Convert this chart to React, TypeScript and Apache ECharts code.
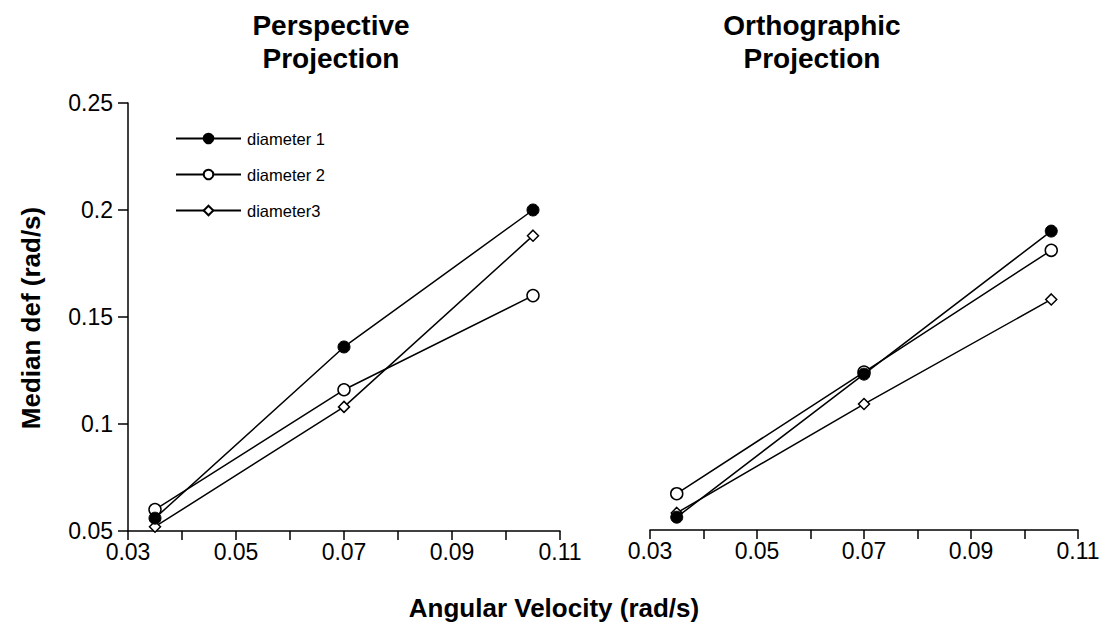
import React, { useEffect, useRef } from "react";
import * as echarts from "echarts";

// Angular velocity levels (rad/s) tested in each condition
const velocities = [0.035, 0.07, 0.105];

// Median def (rad/s), perspective projection
const perspDiameter1 = [0.056, 0.136, 0.2];
const perspDiameter2 = [0.06, 0.116, 0.16];
const perspDiameter3 = [0.052, 0.108, 0.188];

// Median def (rad/s), orthographic projection
const orthoDiameter1 = [0.056, 0.123, 0.19];
const orthoDiameter2 = [0.067, 0.124, 0.181];
const orthoDiameter3 = [0.058, 0.109, 0.158];

const seriesNames = ["diameter 1", "diameter 2", "diameter3"];
const panelTitles = ["Perspective\nProjection", "Orthographic\nProjection"];
const xAxisTitle = "Angular Velocity (rad/s)";
const yAxisTitle = "Median def (rad/s)";

const FONT = "'Liberation Sans', Arial, Helvetica, sans-serif";
const INK = "#000";

const markerStyles = [
  { symbol: "circle", symbolSize: 12, itemStyle: { color: INK, borderColor: INK, borderWidth: 1 } },
  { symbol: "circle", symbolSize: 12, itemStyle: { color: "#fff", borderColor: INK, borderWidth: 1.5 } },
  { symbol: "diamond", symbolSize: 11, itemStyle: { color: "#fff", borderColor: INK, borderWidth: 1.5 } },
];

function pairs(values: number[]) {
  return velocities.map((v, i) => [v, values[i]]);
}

function xAxisFor(gridIndex: number) {
  return {
    type: "value",
    gridIndex,
    min: 0.03,
    max: 0.11,
    interval: 0.01,
    axisLine: { show: true, onZero: false, lineStyle: { color: INK, width: 1.5 } },
    axisTick: { show: true, length: 9, lineStyle: { color: INK, width: 1.5 } },
    axisLabel: {
      color: INK,
      fontFamily: FONT,
      fontSize: 23,
      margin: 9,
      showMinLabel: true,
      showMaxLabel: true,
      formatter: (v: number) => {
        const k = Math.round(v * 100);
        return k % 2 === 1 ? (k / 100).toFixed(2) : "";
      },
    },
    splitLine: { show: false },
  };
}

function yAxisFor(gridIndex: number, visible: boolean) {
  return {
    type: "value",
    gridIndex,
    min: 0.05,
    max: 0.25,
    interval: 0.05,
    show: visible,
    axisLine: { show: visible, lineStyle: { color: INK, width: 1.5 } },
    axisTick: { show: visible, length: 10, lineStyle: { color: INK, width: 1.5 } },
    axisLabel: {
      show: visible,
      color: INK,
      fontFamily: FONT,
      fontSize: 23,
      margin: 15,
      formatter: (v: number) => String(parseFloat(v.toFixed(2))),
    },
    splitLine: { show: false },
  };
}

function lineSeries(name: string, values: number[], idx: number, panel: number) {
  return {
    type: "line",
    name,
    xAxisIndex: panel,
    yAxisIndex: panel,
    data: pairs(values),
    ...markerStyles[idx],
    showAllSymbol: true,
    lineStyle: { color: INK, width: 1.5 },
    emphasis: { disabled: true },
    z: 3 - idx,
  };
}

export default function App() {
  const ref = useRef<HTMLDivElement>(null);

  useEffect(() => {
    if (!ref.current) return;
    const chart = echarts.init(ref.current, undefined, { renderer: "svg" });
    const persp = [perspDiameter1, perspDiameter2, perspDiameter3];
    const ortho = [orthoDiameter1, orthoDiameter2, orthoDiameter3];

    const titleText = (text: string, x: number) => ({
      type: "text",
      x,
      y: 42,
      style: {
        text,
        fill: INK,
        font: `bold 28px ${FONT}`,
        lineHeight: 33,
        align: "center",
        verticalAlign: "middle",
      },
    });

    chart.setOption({
      animation: false,
      backgroundColor: "#fff",
      grid: [
        { left: 128, top: 103, width: 432, height: 428 },
        { left: 650, top: 103, width: 428, height: 427 },
      ],
      xAxis: [xAxisFor(0), xAxisFor(1)],
      yAxis: [yAxisFor(0, true), yAxisFor(1, false)],
      legend: {
        orient: "vertical",
        left: 175,
        top: 130,
        padding: 0,
        itemWidth: 65,
        itemHeight: 12,
        itemGap: 19,
        selectedMode: false,
        data: seriesNames,
        textStyle: { color: INK, fontFamily: FONT, fontSize: 16.5, padding: [0, 0, 0, 1] },
      },
      series: [
        ...seriesNames.map((n, i) => lineSeries(n, persp[i], i, 0)),
        ...seriesNames.map((n, i) => lineSeries(n, ortho[i], i, 1)),
      ],
      graphic: [
        titleText(panelTitles[0], 331),
        titleText(panelTitles[1], 812),
        {
          type: "text",
          x: 554,
          y: 608,
          style: {
            text: xAxisTitle,
            fill: INK,
            font: `bold 26px ${FONT}`,
            align: "center",
            verticalAlign: "middle",
          },
        },
        {
          type: "text",
          x: 31,
          y: 318,
          rotation: Math.PI / 2,
          style: {
            text: yAxisTitle,
            fill: INK,
            font: `bold 26px ${FONT}`,
            align: "center",
            verticalAlign: "middle",
          },
        },
      ],
    });

    return () => chart.dispose();
  }, []);

  return (
    <div
      ref={ref}
      style={{ position: "fixed", left: 0, top: 0, width: 1106, height: 629 }}
    />
  );
}
